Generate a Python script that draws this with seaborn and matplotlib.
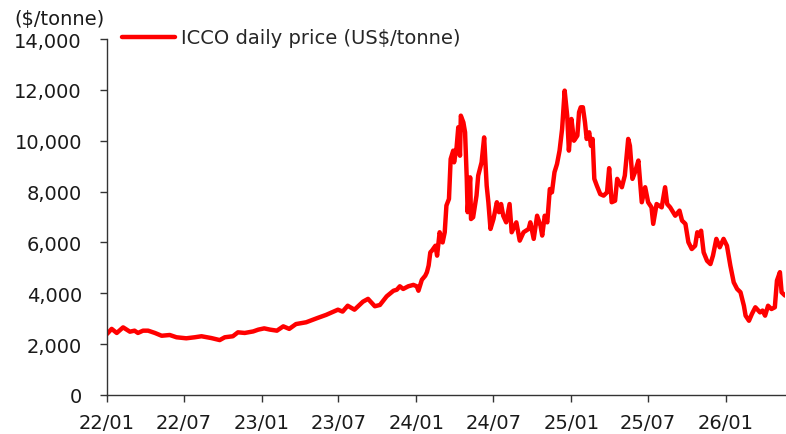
import matplotlib
matplotlib.use("Agg")
import matplotlib.pyplot as plt
import matplotlib.dates as mdates
from matplotlib.ticker import FuncFormatter
import pandas as pd
import seaborn as sns

dates = [
    "2022-01-01", "2022-01-12", "2022-01-24", "2022-02-08", "2022-02-24", "2022-03-07",
    "2022-03-15", "2022-03-27", "2022-04-08", "2022-04-24", "2022-05-10", "2022-05-29",
    "2022-06-14", "2022-07-07", "2022-07-27", "2022-08-12", "2022-09-04", "2022-09-24",
    "2022-10-06", "2022-10-25", "2022-11-06", "2022-11-22", "2022-12-12", "2022-12-24",
    "2023-01-07", "2023-01-21", "2023-02-06", "2023-02-21", "2023-03-07", "2023-03-23",
    "2023-04-16", "2023-05-13", "2023-06-02", "2023-06-30", "2023-07-11", "2023-07-23",
    "2023-08-08", "2023-08-28", "2023-09-09", "2023-09-25", "2023-10-07", "2023-10-23",
    "2023-11-08", "2023-11-16", "2023-11-23", "2023-12-01", "2023-12-13", "2023-12-25",
    "2024-01-02", "2024-01-06", "2024-01-14", "2024-01-22", "2024-01-26", "2024-01-30",
    "2024-02-03", "2024-02-07", "2024-02-15", "2024-02-19", "2024-02-25", "2024-03-03",
    "2024-03-08", "2024-03-12", "2024-03-18", "2024-03-22", "2024-03-28", "2024-03-30",
    "2024-04-05", "2024-04-09", "2024-04-13", "2024-04-15", "2024-04-21", "2024-04-25",
    "2024-04-29", "2024-05-01", "2024-05-07", "2024-05-09", "2024-05-14", "2024-05-22",
    "2024-05-26", "2024-06-03", "2024-06-09", "2024-06-15", "2024-06-19", "2024-06-24",
    "2024-07-01", "2024-07-09", "2024-07-14", "2024-07-19", "2024-07-24", "2024-07-31",
    "2024-08-08", "2024-08-13", "2024-08-24", "2024-09-01", "2024-09-10", "2024-09-22",
    "2024-09-26", "2024-10-04", "2024-10-12", "2024-10-20", "2024-10-24", "2024-10-30",
    "2024-11-05", "2024-11-11", "2024-11-16", "2024-11-22", "2024-11-28", "2024-12-04",
    "2024-12-10", "2024-12-16", "2024-12-22", "2024-12-26", "2025-01-01", "2025-01-07",
    "2025-01-15", "2025-01-19", "2025-01-23", "2025-01-28", "2025-02-02", "2025-02-06",
    "2025-02-12", "2025-02-16", "2025-02-20", "2025-02-24", "2025-03-02", "2025-03-10",
    "2025-03-18", "2025-03-26", "2025-03-31", "2025-04-06", "2025-04-14", "2025-04-19",
    "2025-04-30", "2025-05-07", "2025-05-15", "2025-05-19", "2025-05-25", "2025-05-31",
    "2025-06-08", "2025-06-16", "2025-06-24", "2025-07-01", "2025-07-09", "2025-07-13",
    "2025-07-21", "2025-08-02", "2025-08-10", "2025-08-15", "2025-08-22", "2025-09-03",
    "2025-09-13", "2025-09-19", "2025-09-27", "2025-10-04", "2025-10-12", "2025-10-20",
    "2025-10-25", "2025-10-30", "2025-11-03", "2025-11-09", "2025-11-17", "2025-11-25",
    "2025-12-01", "2025-12-09", "2025-12-17", "2025-12-26", "2026-01-03", "2026-01-11",
    "2026-01-19", "2026-01-27", "2026-02-04", "2026-02-12", "2026-02-16", "2026-02-24",
    "2026-03-03", "2026-03-11", "2026-03-22", "2026-03-28", "2026-04-03", "2026-04-10",
    "2026-04-18", "2026-04-26", "2026-05-01", "2026-05-08", "2026-05-12", "2026-05-20",
]
prices = [
    2400, 2600, 2440, 2660, 2490, 2530,
    2440, 2530, 2530, 2440, 2330, 2360,
    2270, 2230, 2270, 2310, 2240, 2160,
    2270, 2310, 2465, 2440, 2500, 2570,
    2620, 2570, 2530, 2700, 2600, 2790,
    2860, 3030, 3150, 3355, 3280, 3510,
    3355, 3670, 3780, 3490, 3540, 3880,
    4100, 4140, 4275, 4170, 4275, 4330,
    4275, 4100, 4530, 4690, 4830, 5090,
    5610, 5680, 5870, 5480, 6400, 6000,
    6400, 7450, 7710, 9280, 9610, 9150,
    9740, 10530, 9410, 10985, 10720, 10330,
    8500, 7190, 8560, 6920, 6990, 7840,
    8630, 9150, 10130, 8230, 7580, 6530,
    6920, 7580, 7190, 7510, 7050, 6790,
    7510, 6400, 6790, 6070, 6400, 6530,
    6790, 6140, 7050, 6660, 6270, 7050,
    6790, 8100, 7970, 8760, 9085, 9610,
    10460, 11970, 10985, 9610, 10855, 10000,
    10200, 11120, 11315, 11315, 10720, 10070,
    10330, 9800, 10070, 8500, 8230, 7900,
    7840, 7970, 8920, 7580, 7640, 8500,
    8170, 8630, 10070, 9800, 8500, 8760,
    9220, 7580, 8170, 7580, 7380, 6730,
    7510, 7380, 8170, 7510, 7380, 7050,
    7250, 6860, 6730, 6010, 5740, 5870,
    6400, 6270, 6460, 5610, 5280, 5150,
    5480, 6140, 5810, 6140, 5870, 5090,
    4430, 4170, 4040, 3510, 3120, 2920,
    3190, 3450, 3250, 3320, 3120, 3510,
    3380, 3450, 4500, 4830, 4040, 3910,
]
series_label = "ICCO daily price (US$/tonne)"
y_unit = "($/tonne)"
y_ticks = [0, 2000, 4000, 6000, 8000, 10000, 12000, 14000]

df = pd.DataFrame({"date": pd.to_datetime(dates), "price": prices})

sns.set_theme(style="white")
plt.rcParams["font.family"] = ["DejaVu Sans"]

fig = plt.figure(figsize=(7.86, 4.35), dpi=100)
ax = fig.add_axes([107 / 786, 1 - 396 / 435, (785 - 107) / 786, (396 - 40) / 435])

sns.lineplot(data=df, x="date", y="price", ax=ax, color="#FF0000",
             linewidth=3.2, label=series_label)

ax.set_xlim(df["date"].iloc[0], df["date"].iloc[-1])
ax.set_ylim(0, 14000)
ax.set_yticks(y_ticks)
ax.yaxis.set_major_formatter(FuncFormatter(lambda v, p: f"{int(v):,}"))
ax.xaxis.set_major_locator(mdates.MonthLocator(bymonth=[1, 7]))
ax.xaxis.set_major_formatter(mdates.DateFormatter("%y/%m"))

for s in ["top", "right"]:
    ax.spines[s].set_visible(False)
for s in ["left", "bottom"]:
    ax.spines[s].set_color("#333333")
    ax.spines[s].set_linewidth(1.0)

ax.tick_params(axis="both", which="major", direction="out", length=5, width=1,
               color="#333333", labelsize=14, labelcolor="#1a1a1a", left=True, bottom=True)
ax.tick_params(axis="y", pad=13)
ax.tick_params(axis="x", pad=8)
ax.set_xlabel("")
ax.set_ylabel("")
ax.grid(False)

fig.text(14 / 786, 1 - 20 / 435, y_unit, fontsize=14, color="#1a1a1a", ha="left", va="center")

ax.legend(loc="center left", bbox_to_anchor=(122 / 786, 1 - 39 / 435),
          bbox_transform=fig.transFigure, frameon=False, fontsize=14,
          handlelength=2.75, handletextpad=0.26, borderpad=0, borderaxespad=0)

fig.savefig("out.png", dpi=100)
